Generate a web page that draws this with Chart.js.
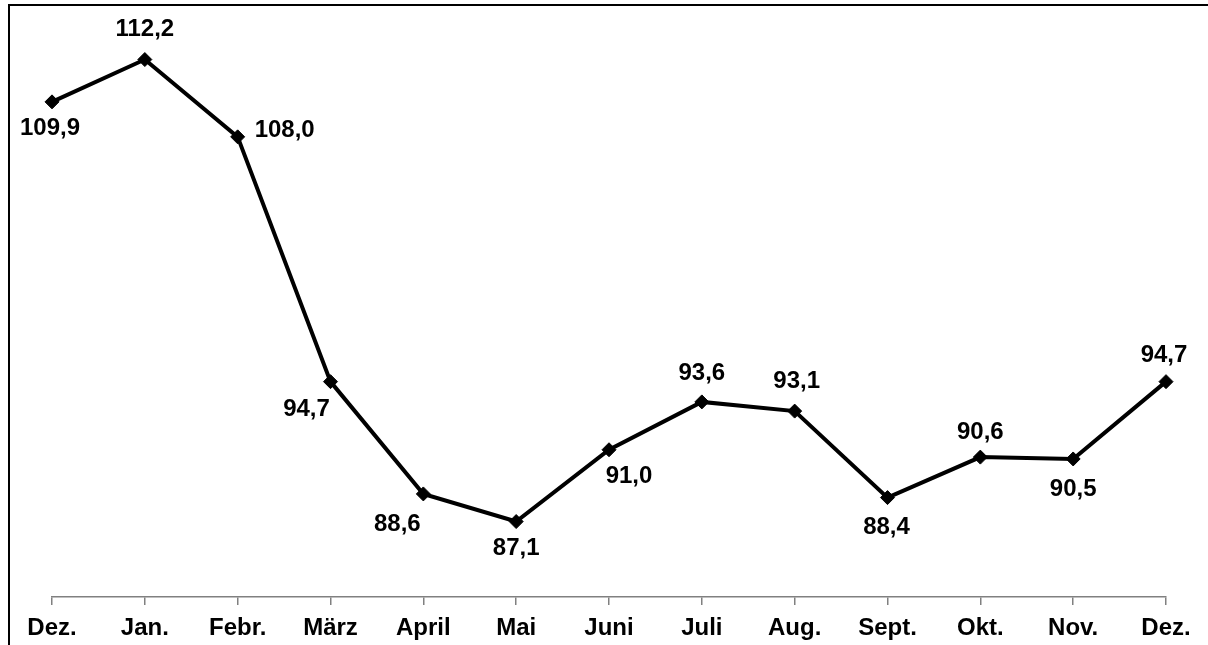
<!DOCTYPE html>
<html>
<head>
<meta charset="utf-8">
<script src="https://cdn.jsdelivr.net/npm/chart.js@4/dist/chart.umd.min.js"></script>
<style>
  html, body { margin: 0; padding: 0; background: #fff; }
  #wrap { width: 1208px; height: 645px; position: relative; }
</style>
</head>
<body>
<div id="wrap"><canvas id="chart"></canvas></div>
<script>
// Monate (Dez. bis Dez.)
const monate = ['Dez.', 'Jan.', 'Febr.', 'März', 'April', 'Mai', 'Juni', 'Juli', 'Aug.', 'Sept.', 'Okt.', 'Nov.', 'Dez.'];
const werte = [109.9, 112.2, 108.0, 94.7, 88.6, 87.1, 91.0, 93.6, 93.1, 88.4, 90.6, 90.5, 94.7];

// Lage der Beschriftungen relativ zum Punkt (dx, dy)
const labelDx = [-2, 0, 47, -24, -26, 0, 20, 0, 2, -1, 0, 0, -2];
const labelDy = [27, -30, -6, 28, 30, 27, 27, -29, -30, 30, -25, 30, -26];

const fmt = v => v.toFixed(1).replace('.', ',');

const rahmen = {
  id: 'rahmen',
  beforeDraw(chart) {
    const ctx = chart.ctx;
    ctx.save();
    ctx.strokeStyle = '#000';
    ctx.lineWidth = 2;
    ctx.beginPath();
    ctx.moveTo(9, 645);
    ctx.lineTo(9, 5);
    ctx.lineTo(1208, 5);
    ctx.stroke();
    ctx.restore();
  }
};

const werteLabels = {
  id: 'werteLabels',
  afterDatasetsDraw(chart) {
    const ctx = chart.ctx;
    const meta = chart.getDatasetMeta(0);
    ctx.save();
    ctx.font = 'bold 24px "Liberation Sans", Arial, sans-serif';
    ctx.fillStyle = '#000';
    ctx.textAlign = 'center';
    ctx.textBaseline = 'middle';
    meta.data.forEach((pt, i) => {
      ctx.fillText(fmt(werte[i]), pt.x + labelDx[i], pt.y + labelDy[i]);
    });
    ctx.restore();
  }
};

new Chart(document.getElementById('chart'), {
  type: 'line',
  data: {
    labels: monate,
    datasets: [{
      data: werte,
      borderColor: '#000',
      borderWidth: 4,
      pointStyle: 'rectRot',
      pointRadius: 7,
      pointBackgroundColor: '#000',
      pointBorderColor: '#000',
      pointBorderWidth: 1,
      tension: 0,
      fill: false
    }]
  },
  options: {
    responsive: true,
    maintainAspectRatio: false,
    animation: false,
    layout: { padding: { left: 52, right: 42, top: 6, bottom: 0 } },
    plugins: { legend: { display: false }, tooltip: { enabled: false } },
    scales: {
      x: {
        offset: false,
        afterFit: s => { s.height = 48; },
        border: { display: true, color: '#808080', width: 1.5 },
        grid: { display: true, drawOnChartArea: false, drawTicks: true, tickLength: 8, color: '#808080', lineWidth: 1.5 },
        ticks: {
          color: '#000',
          padding: 11,
          maxRotation: 0,
          autoSkip: false,
          font: { family: '"Liberation Sans", Arial, sans-serif', size: 24, weight: 'bold', lineHeight: 1 }
        }
      },
      y: { display: false, min: 83, max: 115 }
    }
  },
  plugins: [rahmen, werteLabels]
});
</script>
</body>
</html>
